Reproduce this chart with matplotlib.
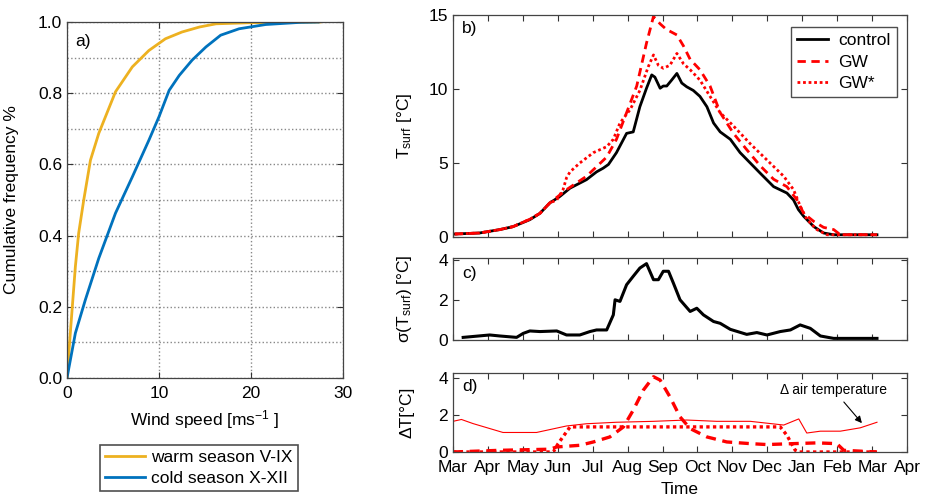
import matplotlib
matplotlib.use('Agg')
import matplotlib.pyplot as plt
import numpy as np

plt.rcParams['font.family'] = ['Liberation Sans', 'DejaVu Sans']
plt.rcParams['mathtext.fontset'] = 'custom'
plt.rcParams['mathtext.rm'] = 'Liberation Sans'
plt.rcParams['mathtext.it'] = 'Liberation Sans'

# ---- panel a: cumulative wind speed distribution ----
warm_ws = [0, 0.36, 0.91, 1.27, 1.82, 2.55, 3.45, 5.27, 7.1, 8.9, 10.7, 12.5, 14.4, 16.2, 19.8, 27.5]
warm_cf = [0, 0.126, 0.313, 0.407, 0.5, 0.612, 0.687, 0.804, 0.874, 0.92, 0.953, 0.972, 0.986, 0.995, 0.998, 1.0]
cold_ws = [0, 0.91, 2.0, 3.45, 5.27, 7.1, 8.9, 10.0, 11.1, 12.2, 13.6, 15.1, 16.7, 18.7, 21.6, 25.3, 27.3]
cold_cf = [0, 0.126, 0.22, 0.336, 0.463, 0.565, 0.668, 0.734, 0.808, 0.85, 0.893, 0.93, 0.963, 0.981, 0.993, 0.999, 1.0]

# ---- panel b: surface temperature (x in months since start of March) ----
ctrl_t = [0.05, 0.76, 1.34, 1.72, 2.20, 2.49, 2.77, 3.06, 3.35, 3.82, 4.11, 4.30, 4.45, 4.68, 4.97,
          5.16, 5.35, 5.54, 5.69, 5.78, 5.93, 6.02, 6.12, 6.26, 6.41, 6.55, 6.69, 6.88, 7.07, 7.27,
          7.46, 7.65, 7.94, 8.22, 8.51, 8.80, 9.18, 9.56, 9.75, 9.89, 10.04, 10.33, 10.61, 10.90,
          11.85, 12.14]
ctrl_v = [0.2, 0.27, 0.5, 0.7, 1.17, 1.6, 2.3, 2.74, 3.3, 3.87, 4.4, 4.65, 4.9, 5.7, 7.0,
          7.1, 8.8, 10.05, 10.95, 10.8, 10.05, 10.2, 10.2, 10.6, 11.05, 10.4, 10.15, 9.9, 9.5, 8.8,
          7.7, 7.1, 6.6, 5.7, 5.0, 4.3, 3.4, 2.97, 2.5, 1.85, 1.4, 0.7, 0.27, 0.15,
          0.15, 0.15]
gw_t = [0.05, 0.76, 1.34, 1.72, 2.20, 2.49, 2.77, 3.25, 3.82, 4.40, 4.68, 4.97, 5.26, 5.54, 5.74,
        5.93, 6.12, 6.21, 6.41, 6.60, 6.79, 7.07, 7.36, 7.65, 8.03, 8.41, 8.80, 9.18, 9.56, 9.85,
        10.04, 10.33, 10.61, 10.90, 11.09, 12.14]
gw_v = [0.2, 0.27, 0.5, 0.7, 1.2, 1.6, 2.3, 3.2, 4.1, 5.4, 6.6, 8.4, 10.2, 13.1, 14.9,
        14.4, 14.0, 13.9, 13.65, 12.9, 12.0, 11.3, 10.2, 8.4, 7.0, 5.9, 4.8, 3.9, 3.4, 2.5,
        1.6, 1.05, 0.65, 0.5, 0.15, 0.15]
gws_t = [0.05, 0.76, 1.34, 1.72, 2.20, 2.49, 2.77, 2.97, 3.15, 3.25, 3.35, 3.63, 4.02, 4.40, 4.59,
         4.78, 5.07, 5.35, 5.59, 5.74, 5.88, 6.02, 6.21, 6.41, 6.60, 6.79, 7.07, 7.36, 7.65, 8.03,
         8.51, 8.99, 9.47, 9.75, 9.94, 10.13, 10.42, 10.71, 12.14]
gws_v = [0.2, 0.27, 0.5, 0.7, 1.2, 1.6, 2.3, 2.5, 3.2, 4.0, 4.4, 5.0, 5.7, 6.1, 6.6,
         7.7, 8.6, 9.9, 11.5, 12.3, 11.6, 11.4, 11.6, 12.4, 11.7, 11.3, 10.6, 9.5, 8.4, 7.5,
         6.3, 5.2, 4.1, 3.2, 2.1, 1.2, 0.5, 0.15, 0.15]

# ---- panel c: spread of surface temperature ----
sig_t = [0.29, 1.05, 1.34, 1.82, 2.01, 2.20, 2.49, 2.97, 3.25, 3.63, 3.92, 4.11, 4.40, 4.59, 4.64,
         4.78, 4.97, 5.16, 5.35, 5.54, 5.74, 5.88, 6.02, 6.17, 6.31, 6.50, 6.79, 6.98, 7.17, 7.46,
         7.65, 7.94, 8.41, 8.70, 8.99, 9.37, 9.66, 9.94, 10.23, 10.52, 10.90, 11.66, 12.14]
sig_v = [0.13, 0.25, 0.2, 0.13, 0.33, 0.45, 0.42, 0.45, 0.25, 0.25, 0.42, 0.5, 0.5, 1.25, 2.0,
         1.92, 2.75, 3.17, 3.58, 3.8, 3.0, 3.0, 3.42, 3.42, 2.83, 2.0, 1.42, 1.58, 1.25, 0.92,
         0.83, 0.53, 0.28, 0.37, 0.25, 0.42, 0.5, 0.75, 0.58, 0.2, 0.08, 0.08, 0.08]

# ---- panel d: temperature differences ----
air_t = [0.0, 0.24, 0.57, 1.43, 2.39, 3.25, 3.82, 4.68, 5.74, 6.69, 7.55, 8.51, 9.47, 9.90, 10.13,
         10.52, 11.09, 11.66, 12.14]
air_v = [1.65, 1.75, 1.53, 1.05, 1.05, 1.4, 1.52, 1.6, 1.65, 1.72, 1.65, 1.65, 1.45, 1.78, 1.02,
         1.12, 1.12, 1.3, 1.6]
dgw_t = [0.0, 1.34, 2.77, 2.97, 3.63, 4.02, 4.49, 4.88, 5.16, 5.45, 5.74, 5.93, 6.21, 6.50, 6.79,
         7.27, 7.84, 8.51, 8.99, 9.75, 10.42, 10.99, 11.19, 12.14]
dgw_v = [0.0, 0.09, 0.15, 0.27, 0.36, 0.54, 0.81, 1.35, 2.25, 3.33, 4.05, 3.87, 2.97, 1.89, 1.26,
         0.81, 0.54, 0.45, 0.4, 0.45, 0.49, 0.45, 0.09, 0.0]
dgws_t = [0.0, 2.87, 3.01, 3.35, 5.16, 9.37, 9.56, 9.80, 9.90, 12.14]
dgws_v = [0.0, 0.0, 0.45, 1.35, 1.35, 1.35, 0.9, 0.09, 0.0, 0.0]

months = ['Mar', 'Apr', 'May', 'Jun', 'Jul', 'Aug', 'Sep', 'Oct', 'Nov', 'Dec', 'Jan', 'Feb', 'Mar', 'Apr']

orange = '#EDB120'
blue = '#0072BD'
red = '#FF0000'
fs = 12.5

fig = plt.figure(figsize=(9.37, 5.04), dpi=100)

def style(ax):
    ax.tick_params(direction='in', top=True, right=True, labelsize=fs, length=4, width=0.8, color='#333333')
    ax.tick_params(axis='x', pad=6)
    for s in ax.spines.values():
        s.set_color('#444444')
        s.set_linewidth(0.9)

# panel a
ax1 = fig.add_axes([0.0715, 0.25, 0.2946, 0.7063])
ax1.plot(warm_ws, warm_cf, color=orange, lw=2, label='warm season V-IX')
ax1.plot(cold_ws, cold_cf, color=blue, lw=2, label='cold season X-XII')
ax1.set_xlim(0, 30)
ax1.set_ylim(0, 1.0)
ax1.set_xticks([0, 10, 20, 30])
ax1.set_yticks(np.arange(0, 1.01, 0.2))
ax1.set_yticklabels(['0.0', '0.2', '0.4', '0.6', '0.8', '1.0'])
ax1.set_yticks(np.arange(0.1, 1.0, 0.2), minor=True)
ax1.grid(True, which='both', linestyle=':', color='#888888', lw=1)
ax1.tick_params(which='minor', length=0)
style(ax1)
ax1.set_xlabel('Wind speed [ms$^{-1}$ ]', fontsize=fs, labelpad=5)
ax1.set_ylabel('Cumulative frequency %', fontsize=fs)
ax1.yaxis.set_label_coords(-0.175, 0.5)
ax1.text(0.03, 0.965, 'a)', transform=ax1.transAxes, fontsize=fs, va='top')
leg = ax1.legend(loc='center', bbox_to_anchor=(0.212, 0.0714), bbox_transform=fig.transFigure,
                 fontsize=fs, fancybox=False, edgecolor='#222222', handlelength=2.3,
                 borderpad=0.3, labelspacing=0.35, handletextpad=0.35, borderaxespad=0)
leg.get_frame().set_linewidth(1.2)

# panel b
ax2 = fig.add_axes([0.4835, 0.5298, 0.4845, 0.4405])
ax2.plot(ctrl_t, ctrl_v, color='black', lw=2, label='control')
ax2.plot(gw_t, gw_v, color=red, lw=2, ls=(0, (3, 2)), label='GW')
ax2.plot(gws_t, gws_v, color=red, lw=2, ls=(0, (1, 1)), label='GW*')
ax2.set_ylim(0, 15)
ax2.set_yticks([0, 5, 10, 15])
ax2.set_ylabel('T$_{\\rm surf}$ [°C]', fontsize=fs)
leg2 = ax2.legend(loc='upper right', bbox_to_anchor=(0.978, 0.945), fontsize=fs, fancybox=False,
                  edgecolor='#222222', handlelength=1.8, borderpad=0.35, labelspacing=0.35,
                  handletextpad=0.6, borderaxespad=0)
leg2.get_frame().set_linewidth(1.0)
ax2.text(0.02, 0.975, 'b)', transform=ax2.transAxes, fontsize=fs, va='top')

# panel c
ax3 = fig.add_axes([0.4835, 0.3254, 0.4845, 0.1627])
ax3.plot(sig_t, sig_v, color='black', lw=2.2)
ax3.set_ylim(0, 4.08)
ax3.set_yticks([0, 2, 4])
ax3.set_ylabel('σ(T$_{\\rm surf}$) [°C]', fontsize=fs)
ax3.text(0.02, 0.9, 'c)', transform=ax3.transAxes, fontsize=fs, va='top')

# panel d
ax4 = fig.add_axes([0.4835, 0.1032, 0.4845, 0.1567])
ax4.plot(air_t, air_v, color=red, lw=0.8)
ax4.plot(dgw_t, dgw_v, color=red, lw=2.4, ls=(0, (3, 2)))
ax4.plot(dgws_t, dgws_v, color=red, lw=2.4, ls=(0, (1, 1)))
ax4.set_ylim(0, 4.25)
ax4.set_yticks([0, 2, 4])
ax4.set_ylabel('ΔT[°C]', fontsize=fs)
ax4.set_xlabel('Time', fontsize=fs, labelpad=5)
ax4.text(0.02, 0.93, 'd)', transform=ax4.transAxes, fontsize=fs, va='top')
ax4.annotate('Δ air temperature', xy=(11.76, 1.44), xytext=(10.9, 3.33), fontsize=10,
             ha='center', va='center',
             arrowprops=dict(arrowstyle='-|>', color='black', lw=0.8, mutation_scale=10))

for ax in (ax2, ax3, ax4):
    ax.set_xlim(0, 13)
    ax.set_xticks(np.arange(14))
    style(ax)
    ax.yaxis.set_label_coords(-0.085, 0.5)
ax2.set_xticklabels([])
ax3.set_xticklabels([])
ax4.set_xticklabels(months)

fig.savefig('out.png', dpi=100)
